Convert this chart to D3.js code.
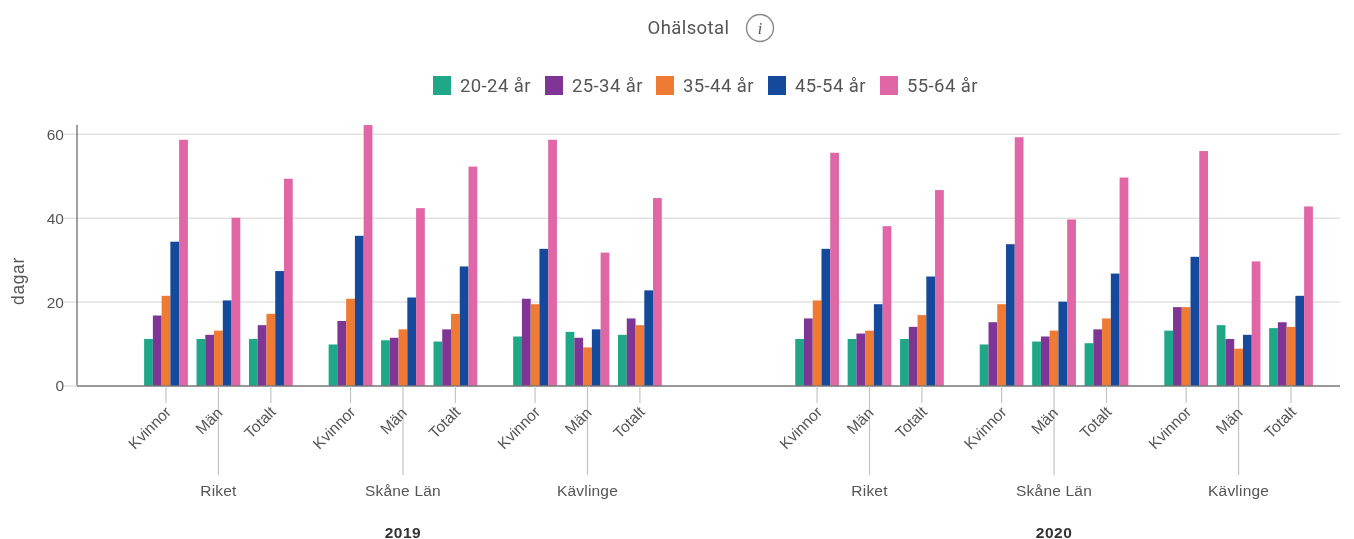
<!DOCTYPE html>
<html>
<head>
<meta charset="utf-8">
<script src="https://cdn.jsdelivr.net/npm/d3@7"></script>
<style>
	html, body { margin: 0; padding: 0; background: #fff; }
	svg { display: block; filter: blur(0.6px); }
	text { font-family: "Liberation Sans", Arial, sans-serif; fill: #555; }
	.roboto { font-family: Roboto, sans-serif; }
</style>
</head>
<body>
<svg id="chart" width="1354" height="539"></svg>
<script>
const years = ['2019', '2020'];
const regions = ['Riket', 'Skåne Län', 'Kävlinge'];
const sexes = ['Kvinnor', 'Män', 'Totalt'];
const ages = ['20-24 år', '25-34 år', '35-44 år', '45-54 år', '55-64 år'];
const ageColors = ['#1ea888', '#7f3596', '#ef7a34', '#14499c', '#e066a6'];
const yTicks = [0, 20, 40, 60];

// one value per bar: 2019 then 2020, Riket/Skåne/Kävlinge, Kvinnor/Män/Totalt
const age2024 = [11.2, 11.2, 11.2, 9.9, 10.9, 10.6, 11.8, 12.9, 12.2, 11.2, 11.2, 11.2, 9.9, 10.6, 10.2, 13.2, 14.5, 13.8];
const age2534 = [16.8, 12.2, 14.5, 15.5, 11.5, 13.5, 20.8, 11.5, 16.1, 16.1, 12.5, 14.1, 15.2, 11.8, 13.5, 18.8, 11.2, 15.2];
const age3544 = [21.5, 13.2, 17.2, 20.8, 13.5, 17.2, 19.5, 9.2, 14.5, 20.4, 13.2, 16.9, 19.5, 13.2, 16.1, 18.8, 8.9, 14.1];
const age4554 = [34.4, 20.4, 27.4, 35.8, 21.1, 28.5, 32.7, 13.5, 22.8, 32.7, 19.5, 26.1, 33.8, 20.1, 26.8, 30.8, 12.2, 21.5];
const age5564 = [58.7, 40.1, 49.4, 62.2, 42.4, 52.3, 58.7, 31.8, 44.8, 55.6, 38.1, 46.7, 59.3, 39.7, 49.7, 56.0, 29.7, 42.8];
const series = [age2024, age2534, age3544, age4554, age5564];

const REGION_GAP = 0.52, YEAR_GAP = 2.38, BAR_WIDTH = 8.75;
const AXIS_LEFT = 77, AXIS_RIGHT = 1340, LABEL_SIZE = 15.5;

const svg = d3.select('svg#chart');

// slot position of every sex group, in units of one group step
const slots = [];
let slot = 0;
years.forEach((yr, yi) => {
	regions.forEach((reg, ri) => {
		sexes.forEach((sex, si) => {
			slots.push({ year: yr, region: reg, sex: sex, pos: slot, mid: si === 1 });
			slot += 1;
		});
		slot += ri < regions.length - 1 ? REGION_GAP : YEAR_GAP;
	});
});

const x = d3.scaleLinear().domain([0, slots[slots.length - 1].pos]).range([166, 1291]);
const y = d3.scaleLinear().domain([0, 60]).range([386, 134.3]);
const yMax = 62.2;

// gridlines
svg.append('g').selectAll('line').data(yTicks.slice(1)).join('line')
	.attr('x1', 64).attr('x2', AXIS_RIGHT)
	.attr('y1', d => y(d)).attr('y2', d => y(d))
	.attr('stroke', '#e2e2e2').attr('stroke-width', 1.5);

// bars
series.forEach((values, ai) => {
	svg.append('g').selectAll('rect').data(values).join('rect')
		.attr('x', (d, i) => x(slots[i].pos) + (ai - 2.5) * BAR_WIDTH)
		.attr('width', BAR_WIDTH)
		.attr('y', d => y(Math.min(d, yMax)))
		.attr('height', d => y(0) - y(Math.min(d, yMax)))
		.attr('fill', ageColors[ai]);
});

// y axis
const yAxis = svg.append('g').attr('transform', `translate(${AXIS_LEFT},0)`)
	.call(d3.axisLeft(y).tickValues(yTicks).tickSize(0).tickPadding(13));
yAxis.select('.domain').remove();
yAxis.selectAll('text').attr('font-size', LABEL_SIZE).style('font-family', '"Liberation Sans", Arial, sans-serif').style('fill', '#555');
svg.append('line').attr('x1', AXIS_LEFT).attr('x2', AXIS_LEFT)
	.attr('y1', y(yMax)).attr('y2', y(0)).attr('stroke', '#777').attr('stroke-width', 1.4);
svg.append('line').attr('x1', 64).attr('x2', AXIS_LEFT)
	.attr('y1', y(0)).attr('y2', y(0)).attr('stroke', '#ddd').attr('stroke-width', 1.4);
svg.append('line').attr('x1', AXIS_LEFT).attr('x2', AXIS_RIGHT)
	.attr('y1', y(0)).attr('y2', y(0)).attr('stroke', '#777').attr('stroke-width', 1.4);
svg.append('text').attr('transform', 'translate(24,281) rotate(-90)')
	.attr('text-anchor', 'middle').attr('font-size', 17.5).attr('letter-spacing', 0.6).text('dagar');

// x ticks, long one under the middle group of each region
svg.append('g').selectAll('line').data(slots).join('line')
	.attr('x1', d => x(d.pos)).attr('x2', d => x(d.pos))
	.attr('y1', y(0)).attr('y2', d => d.mid ? 475 : 403)
	.attr('stroke', '#c4c4c4').attr('stroke-width', 1.2);

svg.append('g').selectAll('text').data(slots).join('text')
	.attr('transform', d => `translate(${x(d.pos) + (d.sex === 'Män' ? 5 : 6)},${d.sex === 'Män' ? 414 : 413}) rotate(-45)`)
	.attr('text-anchor', 'end').attr('font-size', LABEL_SIZE)
	.text(d => d.sex);

// region and year labels
svg.append('g').selectAll('text').data(slots.filter(d => d.mid)).join('text')
	.attr('x', d => x(d.pos)).attr('y', 495.5)
	.attr('text-anchor', 'middle').attr('font-size', LABEL_SIZE).attr('letter-spacing', 0.2)
	.text(d => d.region);

years.forEach((yr, yi) => {
	const mid = slots[yi * 9 + 4];
	svg.append('text')
		.attr('x', x(mid.pos)).attr('y', 537.5)
		.attr('text-anchor', 'middle').attr('font-size', LABEL_SIZE).attr('font-weight', 'bold')
		.attr('letter-spacing', 0.5).style('fill', '#333').text(yr);
});

// title with info icon
svg.append('text').attr('class', 'roboto').attr('x', 688.5).attr('y', 34)
	.attr('text-anchor', 'middle').attr('font-size', 18.5).attr('letter-spacing', 0.4)
	.text('Ohälsotal');
svg.append('circle').attr('cx', 760).attr('cy', 28).attr('r', 13.5)
	.attr('fill', 'none').attr('stroke', '#888').attr('stroke-width', 1.4);
svg.append('text').attr('x', 760).attr('y', 33.5).attr('text-anchor', 'middle')
	.attr('font-size', 16).attr('font-style', 'italic').style('font-family', '"Liberation Serif", serif').text('i');

// legend
const legendX = [433, 545, 656, 768, 880];
const legend = svg.append('g').selectAll('g').data(ages).join('g')
	.attr('transform', (d, i) => `translate(${legendX[i]},76)`);
legend.append('rect').attr('width', 18).attr('height', 19).attr('fill', (d, i) => ageColors[i]);
legend.append('text').attr('class', 'roboto').attr('x', 27).attr('y', 16)
	.attr('font-size', 18.5).attr('letter-spacing', 0.4).text(d => d);
</script>
</body>
</html>
